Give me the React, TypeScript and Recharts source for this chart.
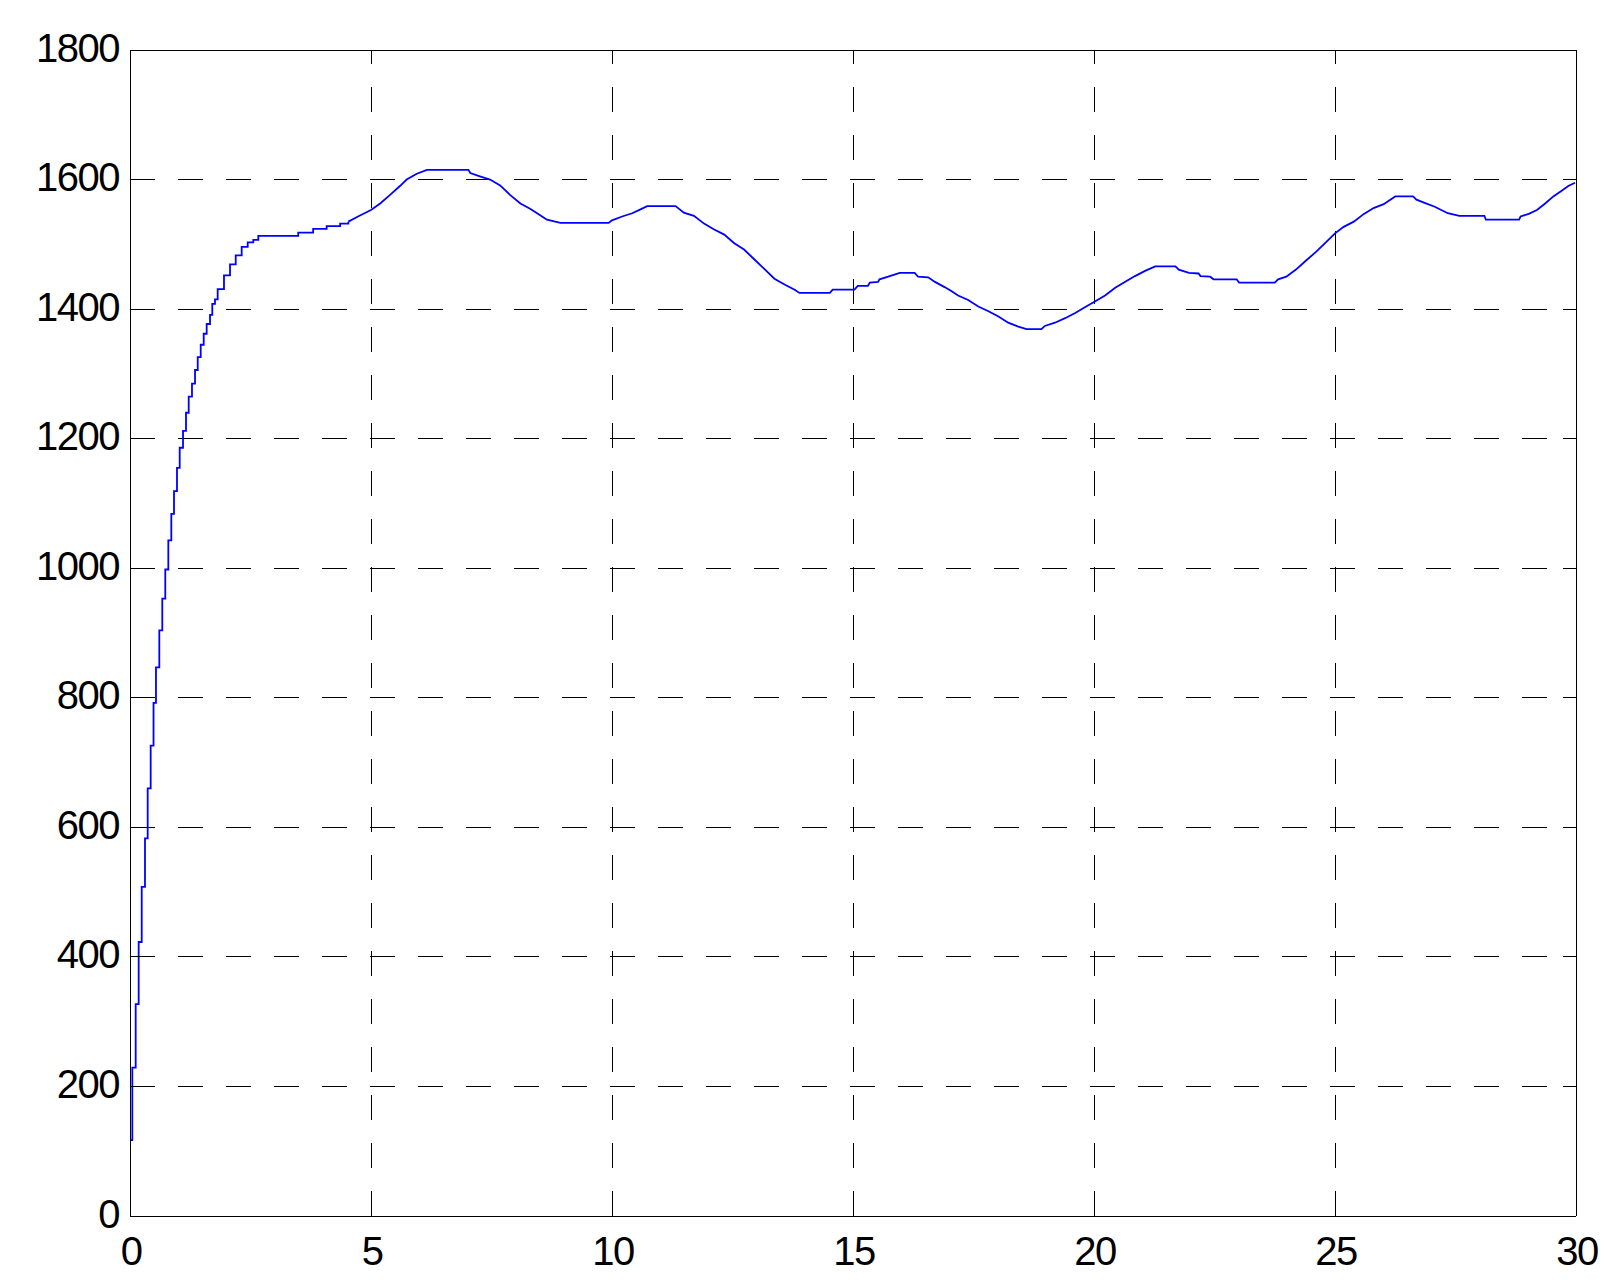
import React from "react";
import { LineChart, Line, XAxis, YAxis, CartesianGrid } from "recharts";

// ---- data ----
const xTicks = [0, 5, 10, 15, 20, 25, 30];
const yTicks = [0, 200, 400, 600, 800, 1000, 1200, 1400, 1600, 1800];

// initial staircase rise (sampled step-by-step)
const riseTime = [
  0, 0, 0.048, 0.118, 0.18, 0.243, 0.311, 0.367, 0.429, 0.488, 0.539, 0.608,
  0.67, 0.732, 0.795, 0.857, 0.913, 0.975, 1.031, 1.1, 1.162, 1.218, 1.286,
  1.349, 1.405, 1.467, 1.529, 1.591, 1.66, 1.707, 1.763, 1.819, 1.95, 2.075,
  2.193, 2.317, 2.442, 2.558, 2.662, 3.49, 3.8, 4.08, 4.36, 4.53,
];
const riseValue = [
  0, 117, 229, 327, 423, 508, 583, 660, 726, 792, 847, 904, 953, 998, 1043,
  1084, 1119, 1155, 1186, 1212, 1240, 1265, 1285, 1306, 1326, 1345, 1362, 1377,
  1391, 1408, 1415, 1431, 1452, 1469, 1483, 1496, 1503, 1507, 1513, 1518, 1524,
  1528, 1532, 1535,
];

// slow oscillation afterwards
const waveTime = [
  4.53, 4.73, 5.0, 5.19, 5.39, 5.6, 5.74, 5.95, 6.16, 7.02, 7.06, 7.26, 7.47,
  7.68, 7.89, 8.1, 8.3, 8.51, 8.65, 8.93, 9.93, 10.0, 10.21, 10.42, 10.59,
  10.73, 11.32, 11.49, 11.7, 11.91, 12.12, 12.33, 12.53, 12.74, 12.95, 13.16,
  13.37, 13.58, 13.79, 13.89, 14.52, 14.58, 15.03, 15.1, 15.31, 15.35, 15.52,
  15.55, 15.73, 15.97, 16.28, 16.35, 16.56, 16.7, 16.9, 17.04, 17.18, 17.39,
  17.6, 17.8, 18.01, 18.22, 18.43, 18.6, 18.91, 18.98, 19.19, 19.4, 19.61,
  19.81, 20.0, 20.23, 20.44, 20.64, 20.85, 21.06, 21.27, 21.69, 21.76, 21.97,
  22.17, 22.21, 22.41, 22.48, 22.96, 23.01, 23.75, 23.82, 23.99, 24.19, 24.4,
  24.6, 24.81, 25.0, 25.18, 25.39, 25.6, 25.8, 26.01, 26.25, 26.62, 26.69,
  26.86, 27.07, 27.34, 27.58, 28.1, 28.13, 28.82, 28.85, 29.02, 29.19, 29.36,
  29.53, 29.71, 29.84, 29.98,
];
const waveValue = [
  1535, 1543, 1553, 1563, 1576, 1590, 1600, 1609, 1615, 1615, 1610, 1605, 1600,
  1591, 1576, 1563, 1555, 1545, 1538, 1533, 1533, 1537, 1543, 1548, 1554, 1559,
  1559, 1549, 1544, 1532, 1523, 1515, 1502, 1492, 1477, 1462, 1447, 1438, 1430,
  1425, 1425, 1430, 1430, 1436, 1436, 1441, 1442, 1446, 1450, 1456, 1456, 1450,
  1449, 1442, 1434, 1428, 1421, 1414, 1404, 1397, 1389, 1379, 1373, 1369, 1369,
  1374, 1379, 1386, 1394, 1403, 1411, 1421, 1433, 1442, 1451, 1459, 1466, 1466,
  1461, 1456, 1455, 1451, 1450, 1446, 1446, 1441, 1441, 1446, 1450, 1461, 1475,
  1488, 1503, 1517, 1527, 1535, 1547, 1556, 1562, 1574, 1574, 1569, 1564, 1558,
  1548, 1544, 1544, 1538, 1538, 1543, 1547, 1553, 1563, 1574, 1583, 1590, 1595,
];

const riseData = riseTime.map((t, i) => ({ t, v: riseValue[i] }));
const waveData = waveTime.map((t, i) => ({ t, v: waveValue[i] }));

const FONT = "'Liberation Sans', Arial, Helvetica, sans-serif";
const TICK_LEN = 13;

const LeftTick = (props: any) => {
  const { x, y, payload } = props;
  const axisX = x + 11;
  return (
    <g>
      <line x1={axisX} y1={y} x2={axisX + TICK_LEN} y2={y} stroke="#000" strokeWidth={1} shapeRendering="crispEdges" />
      <text
        x={x}
        y={y + 11.5}
        textAnchor="end"
        fontSize={40}
        fontFamily={FONT}
        letterSpacing={-1.5}
        fill="#000"
      >
        {payload.value}
      </text>
    </g>
  );
};

const BottomTick = (props: any) => {
  const { x, y, payload } = props;
  return (
    <g>
      <line x1={x} y1={y} x2={x} y2={y - TICK_LEN} stroke="#000" strokeWidth={1} shapeRendering="crispEdges" />
      <text
        x={x + 1}
        y={y + 49}
        textAnchor="middle"
        fontSize={40}
        fontFamily={FONT}
        letterSpacing={-1.5}
        fill="#000"
      >
        {payload.value}
      </text>
    </g>
  );
};

const TopTick = (props: any) => {
  const { x, y } = props;
  return <line x1={x} y1={y} x2={x} y2={y + TICK_LEN} stroke="#000" strokeWidth={1} shapeRendering="crispEdges" />;
};

const RightTick = (props: any) => {
  const { x, y } = props;
  return <line x1={x} y1={y} x2={x - TICK_LEN} y2={y} stroke="#000" strokeWidth={1} shapeRendering="crispEdges" />;
};

const HorizontalGridLine = (p: any) => (
  <line
    key={p.key}
    x1={p.x1}
    y1={p.y1}
    x2={p.x2}
    y2={p.y2}
    stroke="#000"
    strokeWidth={1}
    strokeDasharray="25 23"
    shapeRendering="crispEdges"
    fill="none"
  />
);

const VerticalGridLine = (p: any) => (
  <line
    key={p.key}
    x1={p.x1}
    y1={p.y1}
    x2={p.x2}
    y2={p.y2}
    stroke="#000"
    strokeWidth={1}
    strokeDasharray="25 23"
    strokeDashoffset={10.7}
    shapeRendering="crispEdges"
    fill="none"
  />
);

const axisLineStyle = { stroke: "#000", strokeWidth: 1, shapeRendering: "crispEdges" } as any;

export default function App() {
  return (
    <div style={{ position: "absolute", left: 0, top: 0, width: 1622, height: 1288, background: "#fff" }}>
      <LineChart
        width={1622}
        height={1288}
        margin={{ top: 49, right: 45, bottom: 0, left: 0 }}
      >
        <CartesianGrid horizontal={HorizontalGridLine} vertical={false} stroke="#000" />
        <CartesianGrid horizontal={false} vertical={VerticalGridLine} stroke="#000" />
        <XAxis
          dataKey="t"
          type="number"
          domain={[0, 30]}
          ticks={xTicks}
          allowDataOverflow
          height={72}
          tickSize={0}
          tickMargin={0}
          tickLine={false}
          tick={<BottomTick />}
          axisLine={axisLineStyle}
          interval={0}
        />
        <XAxis
          xAxisId="top"
          orientation="top"
          dataKey="t"
          type="number"
          domain={[0, 30]}
          ticks={xTicks}
          allowDataOverflow
          height={1}
          tickSize={0}
          tickMargin={0}
          tickLine={false}
          tick={<TopTick />}
          axisLine={axisLineStyle}
          interval={0}
        />
        <YAxis
          type="number"
          domain={[0, 1800]}
          ticks={yTicks}
          allowDataOverflow
          width={130}
          tickSize={0}
          tickMargin={11}
          tickLine={false}
          tick={<LeftTick />}
          axisLine={axisLineStyle}
          interval={0}
        />
        <YAxis
          yAxisId="right"
          orientation="right"
          type="number"
          domain={[0, 1800]}
          ticks={yTicks}
          allowDataOverflow
          width={1}
          tickSize={0}
          tickMargin={0}
          tickLine={false}
          tick={<RightTick />}
          axisLine={axisLineStyle}
          interval={0}
        />
        <Line
          data={riseData}
          dataKey="v"
          type="stepAfter"
          stroke="#0000FF"
          strokeWidth={1.8}
          dot={false}
          activeDot={false}
          isAnimationActive={false}
        />
        <Line
          data={waveData}
          dataKey="v"
          type="linear"
          stroke="#0000FF"
          strokeWidth={1.8}
          dot={false}
          activeDot={false}
          isAnimationActive={false}
        />
      </LineChart>
    </div>
  );
}
